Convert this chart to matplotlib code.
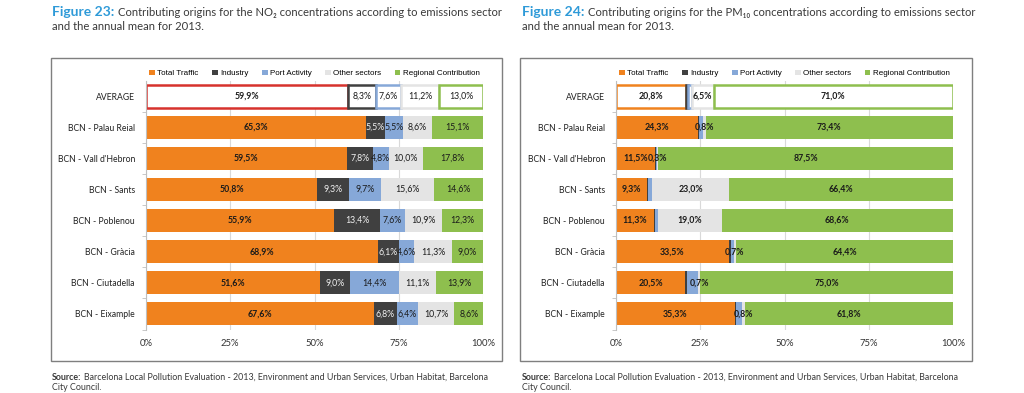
import numpy as np
import matplotlib
matplotlib.use('Agg')
import matplotlib.pyplot as plt
from matplotlib.patches import Rectangle, Patch

plt.rcParams['font.family'] = ['Lato', 'DejaVu Sans']

categories = ['AVERAGE', 'BCN - Palau Reial', "BCN - Vall d'Hebron", 'BCN - Sants',
              'BCN - Poblenou', 'BCN - Gràcia', 'BCN - Ciutadella', 'BCN - Eixample']
sectors = ['Total Traffic', 'Industry', 'Port Activity', 'Other sectors', 'Regional Contribution']

# NO2 (figure 23), % per sector
no2_traffic = [59.9, 65.3, 59.5, 50.8, 55.9, 68.9, 51.6, 67.6]
no2_industry = [8.3, 5.5, 7.8, 9.3, 13.4, 6.1, 9.0, 6.8]
no2_port = [7.6, 5.5, 4.8, 9.7, 7.6, 4.6, 14.4, 6.4]
no2_other = [11.2, 8.6, 10.0, 15.6, 10.9, 11.3, 11.1, 10.7]
no2_regional = [13.0, 15.1, 17.8, 14.6, 12.3, 9.0, 13.9, 8.6]

# PM10 (figure 24), % per sector (industry / port)
pm_traffic = [20.8, 24.3, 11.5, 9.3, 11.3, 33.5, 20.5, 35.3]
pm_industry = [0.5, 0.4, 0.3, 0.3, 0.3, 0.5, 0.5, 0.4]
pm_port = [1.2, 1.1, 0.4, 1.0, 0.8, 0.9, 3.3, 1.7]
pm_other = [6.5, 0.8, 0.3, 23.0, 19.0, 0.7, 0.7, 0.8]
pm_regional = [71.0, 73.4, 87.5, 66.4, 68.6, 64.4, 75.0, 61.8]

colors = ['#F0821E', '#404040', '#86A8D8', '#E4E4E4', '#8EBF4E']
label_dark = '#1A1A1A'


def fmt(v):
    return f'{v:.1f}%'.replace('.', ',')


def draw_panel(ax, series, avg_edges, labelled, bold_all, industry_white):
    y = np.arange(len(categories))
    left = np.zeros(len(categories))
    ax.set_axisbelow(True)
    ax.grid(axis='x', color='#D9D9D9', linewidth=0.8)
    for i, vals in enumerate(series):
        vals = np.array(vals)
        # first row (AVERAGE) is drawn as outlined white boxes
        ax.barh(y[1:], vals[1:], left=left[1:], height=0.74, color=colors[i], linewidth=0)
        ax.barh(y[0], vals[0], left=left[0], height=0.74, color='white',
                edgecolor=avg_edges[i], linewidth=1.8)
        if labelled[i]:
            for j in range(len(categories)):
                bold = bold_all or i == 0
                col = label_dark
                if industry_white and i == 1 and j > 0:
                    col = '#F2F2F2'
                ax.text(left[j] + vals[j] / 2, y[j], fmt(vals[j]), ha='center', va='center',
                        fontsize=6.3, color=col, fontweight='bold' if bold else 'normal')
        left += vals
    ax.set_xlim(0, 100)
    ax.set_ylim(len(categories) - 0.5, -0.5)
    ax.set_xticks([0, 25, 50, 75, 100])
    ax.set_xticklabels(['0%', '25%', '50%', '75%', '100%'], fontsize=6.8, color='#333333')
    ax.tick_params(axis='x', length=0, pad=7)
    ax.set_yticks(y)
    ax.set_yticklabels(categories, fontsize=6.2, color='#222222')
    ax.tick_params(axis='y', which='major', length=0, pad=8)
    ax.set_yticks(np.arange(len(categories)) + 0.5, minor=True)
    ax.tick_params(axis='y', which='minor', length=3, color='#BFBFBF')
    for s in ['top', 'right', 'bottom']:
        ax.spines[s].set_visible(False)
    ax.spines['left'].set_color('#BFBFBF')
    handles = [Patch(facecolor=c, edgecolor='none') for c in colors]
    ax.legend(handles, sectors, ncol=5, loc='lower left', bbox_to_anchor=(0, 1.0, 1, 0.08),
              mode='expand', frameon=False, handlelength=0.7, handleheight=0.7,
              handletextpad=0.3, borderaxespad=0, prop={'family': 'Liberation Sans', 'size': 5.8})


fig = plt.figure(figsize=(10.24, 3.93), dpi=100)

ax1 = fig.add_axes([146 / 1024, 1 - 329.5 / 393, 337 / 1024, 249 / 393])
ax2 = fig.add_axes([616 / 1024, 1 - 329.5 / 393, 337 / 1024, 249 / 393])

draw_panel(ax1, [no2_traffic, no2_industry, no2_port, no2_other, no2_regional],
           ['#D7322D', '#404040', '#86A8D8', '#E4E4E4', '#8EBF4E'],
           [True, True, True, True, True], False, True)
draw_panel(ax2, [pm_traffic, pm_industry, pm_port, pm_other, pm_regional],
           ['#F0821E', '#404040', '#86A8D8', '#E4E4E4', '#8EBF4E'],
           [True, False, False, True, True], True, False)

# panel frames
for x0, x1 in [(51, 502), (520, 972)]:
    fig.patches.append(Rectangle((x0 / 1024, 1 - 361 / 393), (x1 - x0) / 1024, 303 / 393,
                                 transform=fig.transFigure, fill=False,
                                 edgecolor='#7F7F7F', linewidth=1))

# titles and sources
blue = '#2E9AD8'
grey = '#3A3A3A'
for x0, num, pol in [(52, '23', 'NO₂'), (522, '24', 'PM₁₀')]:
    t = fig.text(x0 / 1024, 1 - 12 / 393, f'Figure {num}:', color=blue, fontsize=10,
                 fontweight='bold', va='center')
    fig.canvas.draw()
    bb = t.get_window_extent()
    fig.text(bb.x1 / 1024 + 4 / 1024, 1 - 12 / 393,
             f'Contributing origins for the {pol} concentrations according to emissions sector',
             color=grey, fontsize=8.1, va='center')
    fig.text(x0 / 1024, 1 - 27 / 393, 'and the annual mean for 2013.', color=grey,
             fontsize=8.1, va='center')
    s = fig.text(x0 / 1024, 1 - 377 / 393, 'Source:', color=grey, fontsize=6.4,
                 fontweight='bold', va='center')
    fig.canvas.draw()
    bb = s.get_window_extent()
    fig.text(bb.x1 / 1024 + 3 / 1024, 1 - 377 / 393,
             'Barcelona Local Pollution Evaluation - 2013, Environment and Urban Services, '
             'Urban Habitat, Barcelona', color=grey, fontsize=6.4, va='center')
    fig.text(x0 / 1024, 1 - 388 / 393, 'City Council.', color=grey, fontsize=6.4, va='center')

fig.savefig('out.png', dpi=100)
